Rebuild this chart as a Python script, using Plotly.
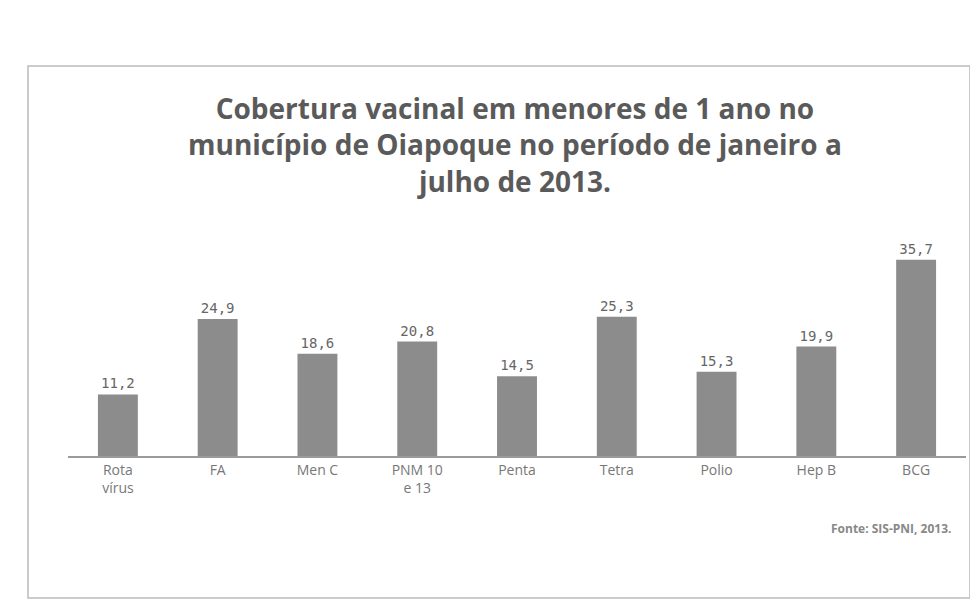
import plotly.graph_objects as go

categories = ["Rota<br>vírus", "FA", "Men C", "PNM 10<br>e 13", "Penta", "Tetra", "Polio", "Hep B", "BCG"]
values = [11.2, 24.9, 18.6, 20.8, 14.5, 25.3, 15.3, 19.9, 35.7]
value_labels = ["11,2", "24,9", "18,6", "20,8", "14,5", "25,3", "15,3", "19,9", "35,7"]
title_lines = ["Cobertura vacinal em menores de 1 ano no",
               "município de Oiapoque no período de janeiro a",
               "julho de 2013."]
source_text = "Fonte: SIS-PNI, 2013."

W, H = 978, 608
L, R, T, B = 60, 20, 228, 160
pw, ph = W - L - R, H - T - B


def px(x):
    return (x - L) / pw


def py(y):
    return (H - B - y) / ph


fig = go.Figure(go.Bar(
    x=categories, y=values,
    text=value_labels, textposition="outside",
    textfont=dict(family="DejaVu Sans Mono", size=14, color="#666666"),
    marker=dict(color="#8c8c8c", line=dict(width=0)),
    cliponaxis=False,
))

fig.update_layout(
    width=W, height=H,
    paper_bgcolor="white", plot_bgcolor="white",
    margin=dict(l=L, r=R, t=T, b=B, autoexpand=False),
    bargap=0.6,
    showlegend=False,
    font=dict(family="Open Sans", color="#666666"),
    xaxis=dict(showline=True, linecolor="#9a9a9a", linewidth=1.5, ticks="",
               tickfont=dict(family="Open Sans", size=14, color="#777777")),
    yaxis=dict(visible=False, range=[0, 40]),
)

fig.add_annotation(text="<br>".join("<b>" + t + "</b>" for t in title_lines),
                   x=px(507), y=py(136), xref="paper", yref="paper",
                   showarrow=False, xanchor="center", yanchor="middle", align="center",
                   font=dict(family="Open Sans", size=28, color="#5a5a5a"))

fig.add_annotation(text="<b>" + source_text + "</b>", x=px(945), y=py(520), xref="paper", yref="paper",
                   showarrow=False, xanchor="right", yanchor="middle",
                   font=dict(family="Open Sans", size=12, color="#888888"))

fig.add_shape(type="rect", xref="paper", yref="paper", x0=px(20), x1=px(962), y0=py(590), y1=py(58),
              line=dict(color="#bbbbbb", width=1.5))

fig.write_html("out.html")
